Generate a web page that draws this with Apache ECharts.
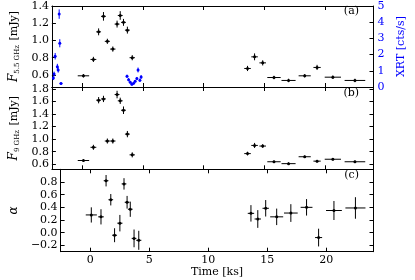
<!DOCTYPE html>
<html><head><meta charset="utf-8">
<script src="https://cdn.jsdelivr.net/npm/echarts@6/dist/echarts.min.js"></script>
<style>html,body{margin:0;padding:0;background:#fff}#c{width:415px;height:280px}</style>
</head><body><div id="c"></div>
<script>
// ---- tick labels ----
const timeTicks = [0, 5, 10, 15, 20];
const f55Ticks = [0.6, 0.8, 1.0, 1.2, 1.4];
const f9Ticks = [0.6, 0.8, 1.0, 1.2, 1.4, 1.6, 1.8];
const alphaTicks = [-0.2, 0.0, 0.2, 0.4, 0.6, 0.8];
const xrtTicks = [0, 1, 2, 3, 4, 5];

// ---- radio data (time in ks) ----
const t     = [0.1, 0.92, 1.35, 1.75, 2.07, 2.52, 2.87, 3.13, 3.4, 3.72, 4.12, 13.62, 14.2, 14.87, 15.8, 17.0, 18.33, 19.35, 20.65, 22.47];
const tErr  = [0.47, 0.24, 0.2, 0.2, 0.21, 0.22, 0.2, 0.2, 0.2, 0.2, 0.22, 0.27, 0.27, 0.27, 0.55, 0.58, 0.5, 0.3, 0.67, 0.85];
const f55   = [0.59, 0.78, 1.10, 1.28, 0.99, 0.90, 1.19, 1.29, 1.21, 1.12, 0.80, 0.675, 0.81, 0.74, 0.57, 0.536, 0.59, 0.687, 0.574, 0.536];
const f55Err= [0.02, 0.03, 0.04, 0.05, 0.03, 0.03, 0.04, 0.05, 0.04, 0.04, 0.03, 0.03, 0.04, 0.03, 0.02, 0.02, 0.02, 0.03, 0.02, 0.02];
const f9    = [0.66, 0.87, 1.62, 1.64, 0.97, 0.97, 1.71, 1.61, 1.46, 1.08, 0.75, 0.77, 0.90, 0.89, 0.64, 0.61, 0.72, 0.65, 0.68, 0.64];
const f9Err = [0.02, 0.04, 0.05, 0.05, 0.04, 0.04, 0.06, 0.05, 0.06, 0.05, 0.04, 0.03, 0.04, 0.03, 0.02, 0.02, 0.02, 0.02, 0.02, 0.02];
const alpha = [0.28, 0.25, 0.82, 0.52, -0.04, 0.15, 0.77, 0.48, 0.37, -0.09, -0.12, 0.305, 0.216, 0.385, 0.25, 0.31, 0.40, -0.077, 0.35, 0.39];
const alphaErr = [0.12, 0.12, 0.09, 0.09, 0.11, 0.13, 0.09, 0.10, 0.12, 0.14, 0.15, 0.13, 0.14, 0.13, 0.13, 0.14, 0.13, 0.14, 0.15, 0.17];

// ---- XRT data ----
const xrtT    = [-2.38, -2.32, -2.23, -2.05, -1.98, -1.9, -1.85, -1.75, 3.69, 3.82, 3.96, 4.09, 4.23, 4.36, 4.5, 4.6, 4.75, 4.85];
const xrtTErr = [0.04, 0.04, 0.04, 0.04, 0.04, 0.04, 0.04, 0.12, 0.04, 0.04, 0.04, 0.06, 0.06, 0.04, 0.04, 0.04, 0.04, 0.04];
const xrtV    = [0.55, 0.80, 1.90, 1.25, 1.05, 4.5, 2.7, 0.22, 0.66, 0.45, 0.30, 0.17, 0.23, 0.35, 0.52, 1.05, 0.42, 0.62];
const xrtErr  = [0.12, 0.15, 0.2, 0.18, 0.16, 0.29, 0.25, 0.08, 0.1, 0.1, 0.08, 0.08, 0.08, 0.08, 0.1, 0.15, 0.1, 0.12];

const FONT = 'DejaVu Serif';
const BLUE = '#0000ff';
const chart = echarts.init(document.getElementById('c'), null, {renderer: 'canvas'});

function pack(xs, ys, exs, eys) { return xs.map((x, i) => [x, ys[i], exs[i], eys[i]]); }

function errRender(color) {
  return function (params, api) {
    const x = api.value(0), y = api.value(1), ex = api.value(2), ey = api.value(3);
    const c = api.coord([x, y]);
    const l = api.coord([x - ex, y]), r = api.coord([x + ex, y]);
    const b = api.coord([x, y - ey]), tp = api.coord([x, y + ey]);
    const st = {stroke: color, lineWidth: 1};
    return {type: 'group', children: [
      {type: 'line', shape: {x1: l[0], y1: l[1], x2: r[0], y2: r[1]}, style: st},
      {type: 'line', shape: {x1: b[0], y1: b[1], x2: tp[0], y2: tp[1]}, style: st},
      {type: 'circle', shape: {cx: c[0], cy: c[1], r: 1.5}, style: {fill: color}}
    ]};
  };
}

const fmt = v => (v < -1e-9 ? '\u2212' : '') + Math.abs(v).toFixed(1);
const lineStyle = {color: '#000', width: 1};

function xAx(gi, pos, labels) {
  const a = {type: 'value', gridIndex: gi, position: pos, min: -2.5, max: 24,
    axisLine: {show: true, onZero: false, lineStyle},
    axisTick: {show: true, inside: true, length: 4, customValues: timeTicks, lineStyle},
    axisLabel: {show: labels, customValues: timeTicks, margin: 3, color: '#000', fontFamily: FONT, fontSize: 11},
    splitLine: {show: false}};
  if (labels) {
    a.name = 'Time [ks]'; a.nameLocation = 'middle'; a.nameGap = 15;
    a.nameTextStyle = {fontFamily: FONT, fontSize: 11, color: '#000'};
  }
  return a;
}
function yAx(gi, pos, min, max, ticks, labels, name, color) {
  const a = {type: 'value', gridIndex: gi, position: pos, min, max,
    axisLine: {show: true, onZero: false, lineStyle},
    axisTick: {show: true, inside: true, length: 4, customValues: ticks, lineStyle},
    axisLabel: {show: labels, customValues: ticks, margin: 3, color: color || '#000', fontFamily: FONT, fontSize: 11, formatter: fmt},
    splitLine: {show: false}};
  if (name) {
    a.name = name; a.nameLocation = 'middle'; a.nameRotate = 90;
    a.nameGap = pos === 'left' ? 24 : 20;
    a.nameTextStyle = {fontFamily: FONT, fontSize: 11, color: color || '#000',
      rich: {i: {fontFamily: FONT, fontStyle: 'italic', fontSize: 12, color: color || '#000'},
             s: {fontFamily: FONT, fontSize: 7, color: color || '#000', padding: [6, 1, 0, 0]},
             n: {fontFamily: FONT, fontSize: 11, color: color || '#000'}}};
  }
  return a;
}

const option = {
  animation: false,
  backgroundColor: '#fff',
  grid: [
    {left: 41.5, right: 41.5, top: 6, height: 81},
    {left: 41.5, right: 41.5, top: 87, height: 82.3},
    {left: 41.5, right: 41.5, top: 169.3, height: 82.4}
  ],
  xAxis: [xAx(0, 'bottom', false), xAx(1, 'bottom', false), xAx(2, 'bottom', true),
          xAx(0, 'top', false), xAx(1, 'top', false), xAx(2, 'top', false)],
  yAxis: [
    yAx(0, 'left', 0.46, 1.4, f55Ticks, true, '{i|F}{s|5.5 GHz}{n| [mJy]}'),
    yAx(1, 'left', 0.52, 1.83, f9Ticks, true, '{i|F}{s|9 GHz}{n| [mJy]}'),
    yAx(2, 'left', -0.3, 1.0, alphaTicks, true, '{i|\u03b1}'),
    Object.assign(yAx(0, 'right', 0, 5, xrtTicks, true, 'XRT [cts/s]', BLUE), {axisLabel: {show: true, customValues: xrtTicks, margin: 4, color: BLUE, fontFamily: FONT, fontSize: 11}}),
    yAx(1, 'right', 0.52, 1.83, f9Ticks, false),
    yAx(2, 'right', -0.3, 1.0, alphaTicks, false)
  ],
  series: [
    {type: 'custom', xAxisIndex: 0, yAxisIndex: 3, renderItem: errRender(BLUE), data: pack(xrtT, xrtV, xrtTErr, xrtErr), clip: true},
    {type: 'custom', xAxisIndex: 0, yAxisIndex: 0, renderItem: errRender('#000'), data: pack(t, f55, tErr, f55Err)},
    {type: 'custom', xAxisIndex: 1, yAxisIndex: 1, renderItem: errRender('#000'), data: pack(t, f9, tErr, f9Err)},
    {type: 'custom', xAxisIndex: 2, yAxisIndex: 2, renderItem: errRender('#000'), data: pack(t, alpha, tErr, alphaErr)}
  ],
  graphic: [
    {type: 'text', right: 56, top: 6, style: {text: '(a)', font: '11px "DejaVu Serif"', fill: '#000'}},
    {type: 'text', right: 56, top: 88, style: {text: '(b)', font: '11px "DejaVu Serif"', fill: '#000'}},
    {type: 'text', right: 56, top: 170, style: {text: '(c)', font: '11px "DejaVu Serif"', fill: '#000'}}
  ]
};
chart.setOption(option);
</script>
</body></html>
